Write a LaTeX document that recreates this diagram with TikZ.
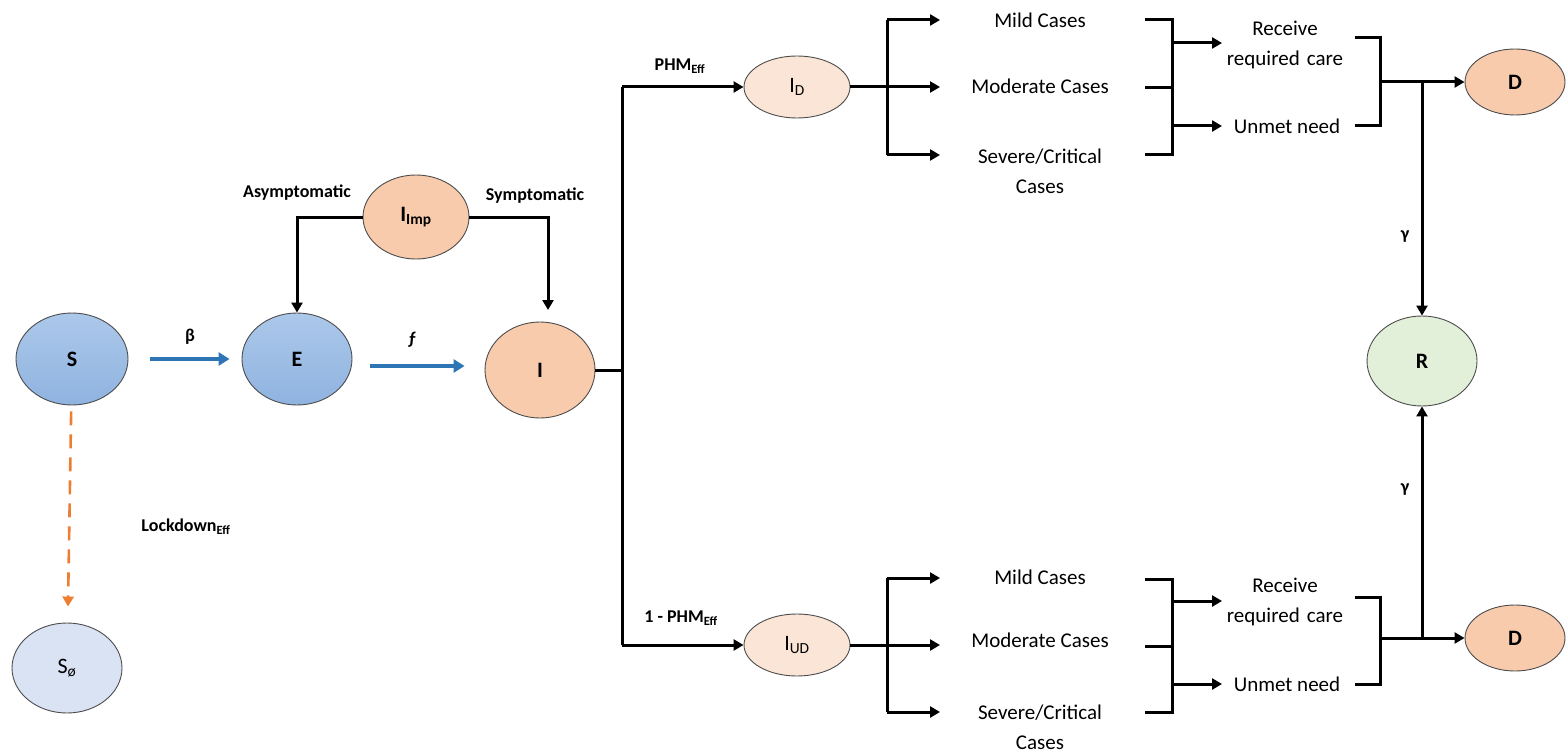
\documentclass[tikz,border=0pt]{standalone}
\usepackage{fontspec}
\setmainfont{Carlito}
\usetikzlibrary{arrows.meta,shapes.geometric}
\definecolor{blueT}{RGB}{172,200,234}
\definecolor{blueB}{RGB}{143,179,224}
\definecolor{peach}{RGB}{248,203,173}
\definecolor{lpeach}{RGB}{251,229,214}
\definecolor{lgreen}{RGB}{226,240,217}
\definecolor{lblue}{RGB}{218,227,243}
\definecolor{arrblue}{RGB}{46,117,182}
\definecolor{arrorange}{RGB}{237,125,49}
\tikzset{
  st/.style={ellipse, draw=black!70, line width=0.9pt, inner sep=0pt,
             font=\fontsize{22}{26}\selectfont\bfseries},
  ln/.style={line width=3pt},
  arr/.style={line width=3pt, -{Triangle[length=10pt,width=11pt]}},
  blarr/.style={arrblue, line width=4.5pt, -{Triangle[length=11pt,width=13pt]}},
  lab/.style={font=\fontsize{18}{22}\selectfont\bfseries, inner sep=1pt},
  txt/.style={font=\fontsize{21}{30}\selectfont, align=center, inner sep=1pt},
}
\begin{document}
\begin{tikzpicture}[x=1pt,y=-1pt]
\useasboundingbox (0,0) rectangle (1568,754);

% nodes
\node[st, top color=blueT, bottom color=blueB, minimum width=112, minimum height=92] (S) at (72,359) {S};
\node[st, top color=blueT, bottom color=blueB, minimum width=110, minimum height=92] (E) at (297,359) {E};
\node[st, fill=peach, minimum width=110, minimum height=96] (I) at (540,370) {I};
\node[st, fill=peach, minimum width=106, minimum height=84] (Imp) at (416,217) {I\textsubscript{Imp}};
\node[st, fill=lblue, minimum width=110, minimum height=90] (Sp) at (67,668) {\mdseries S\textsubscript{ø}};
\node[st, fill=lpeach, minimum width=106, minimum height=62] (ID) at (797,87) {\mdseries I\textsubscript{D}};
\node[st, fill=lpeach, minimum width=106, minimum height=62] (IUD) at (797,645) {\mdseries I\textsubscript{UD}};
\node[st, fill=peach, minimum width=100, minimum height=66] (D1) at (1515,82) {D};
\node[st, fill=peach, minimum width=100, minimum height=66] (D2) at (1515,638) {D};
\node[st, fill=lgreen, minimum width=110, minimum height=90] (R) at (1422,361) {R};

% labels
\node[lab] (beta) at (190,337) {β};
\node[lab] (fl) at (412,340) {ƒ};
\node[lab] (asym) at (297,193) {Asymptomatic};
\node[lab] (sym) at (535,196) {Symptomatic};
\node[lab] (lock) at (186,527) {Lockdown\textsubscript{Eff}};
\node[lab] (phm) at (680,66) {PHM\textsubscript{Eff}};
\node[lab] (phm2) at (681,618) {1 - PHM\textsubscript{Eff}};
\node[lab] (g1) at (1405,237) {γ};
\node[lab] (g2) at (1405,490) {γ};

% left part
\draw[blarr, shorten <=22pt, shorten >=12pt] (S) -- (E);
\draw[blarr, shorten <=18pt, shorten >=20pt] ([yshift=-7pt]E.east) -- ([yshift=4pt]I.west);
\draw[arrorange, line width=2.6pt, dash pattern=on 14pt off 9pt,
      -{Triangle[length=10pt,width=11pt]}, shorten <=6pt, shorten >=16pt] (S) -- (Sp);
\coordinate (symEnd) at (548,310);
\draw[arr] (Imp.west) -| (E.north);
\draw[arr] (Imp.east) -| (symEnd);

% split
\coordinate (split) at (622,370);
\draw[ln] (I.east) -- (split);
\draw[ln] (split |- ID) -- (split |- IUD);
\draw[arr] (split |- ID) -- (ID.west);
\draw[arr] (split |- IUD) -- (IUD.west);

% ---------- top branch
\node[txt] (mild1) at (1040,20) {Mild Cases};
\node[txt] (mod1) at (1040,86) {Moderate Cases};
\node[txt, text width=160] (sev1) at (1040,171) {Severe/Critical\\Cases};
\node[txt, text width=170] (rec1) at (1285,45) {Receive\\required care};
\node[txt] (un1) at (1287,126) {Unmet need};

\coordinate (b1) at (887,87);
\draw[ln] (ID.east) -- (b1);
\draw[ln] (887,20) -- (887,155);
\draw[arr] (887,20) -- (940,20);
\draw[arr] (b1) -- (940,87);
\draw[arr] (887,155) -- (940,155);

\draw[ln] (1145,20) -| (1172,155) -- (1145,155);
\draw[ln] (1145,88) -- (1172,88);
\draw[arr] (1172,43) -- (1222,43);
\draw[arr] (1172,126) -- (1222,126);

\draw[ln] (1355,38) -| (1380,126) -- (1355,126);
\coordinate (j1) at (1422,82);
\draw[arr] (1380,82) -- (D1.west);
\draw[arr] (j1) -- (R.north);

% ---------- bottom branch
\node[txt] (mild2) at (1040,577) {Mild Cases};
\node[txt] (mod2) at (1040,640) {Moderate Cases};
\node[txt, text width=160] (sev2) at (1040,727) {Severe/Critical\\Cases};
\node[txt, text width=170] (rec2) at (1285,602) {Receive\\required care};
\node[txt] (un2) at (1287,684) {Unmet need};

\coordinate (b2) at (887,645);
\draw[ln] (IUD.east) -- (b2);
\draw[ln] (887,578) -- (887,712);
\draw[arr] (887,578) -- (940,578);
\draw[arr] (b2) -- (940,645);
\draw[arr] (887,712) -- (940,712);

\draw[ln] (1145,579) -| (1172,712) -- (1145,712);
\draw[ln] (1145,646) -- (1172,646);
\draw[arr] (1172,601) -- (1222,601);
\draw[arr] (1172,684) -- (1222,684);

\draw[ln] (1355,597) -| (1380,684) -- (1355,684);
\coordinate (j2) at (1422,638);
\draw[arr] (1380,638) -- (D2.west);
\draw[arr] (j2) -- (R.south);
\end{tikzpicture}
\end{document}
